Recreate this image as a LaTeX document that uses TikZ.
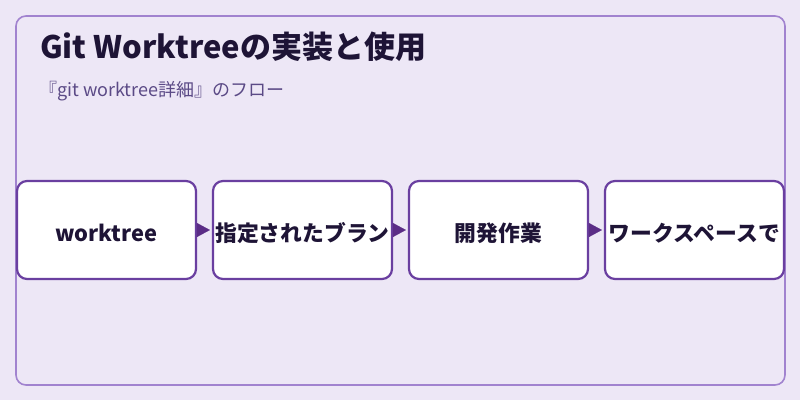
\documentclass[tikz,border=0pt]{standalone}
\usepackage{fontspec}
\setmainfont{Noto Sans CJK JP}
\usetikzlibrary{arrows.meta}
\definecolor{bgc}{HTML}{EDE7F6}
\definecolor{framec}{HTML}{A183CF}
\definecolor{boxc}{HTML}{6A3FA0}
\definecolor{arrc}{HTML}{5B2D86}
\definecolor{txtc}{HTML}{1E1436}
\definecolor{subc}{HTML}{5B4A86}
\tikzset{
  stepbox/.style={draw=boxc, line width=2.2pt, fill=white, rounded corners=10pt,
    minimum width=179pt, minimum height=98pt, inner sep=0pt, text=txtc,
    text height=22pt, text depth=0pt,
    font=\fontsize{21.8}{26}\selectfont\bfseries},
  flow/.style={arrc, line width=0.1pt, -{Triangle[length=13pt,width=14pt]}, shorten >=2pt},
}
\begin{document}
\begin{tikzpicture}[x=1pt,y=-1pt]
\fill[bgc] (0,0) rectangle (800,400);
\useasboundingbox (0,0) rectangle (800,400);
\draw[framec, line width=1.6pt, rounded corners=10pt] (16,16) rectangle (785,385);
\node[anchor=base west, inner sep=0pt, text=txtc, font=\fontsize{31}{35}\selectfont\bfseries] (title) at (40,58) {Git Worktreeの実装と使用};
\node[anchor=base west, inner sep=0pt, text=subc, font=\fontsize{18}{21}\selectfont] (sub) at (39,96) {『git worktree詳細』のフロー};
\node[stepbox] (b1) at (106.5,230) {worktree};
\node[stepbox] (b2) at (302.5,230) {指定されたブラン};
\node[stepbox] (b3) at (498.5,230) {開発作業};
\node[stepbox] (b4) at (694.5,230) {ワークスペースで};
\draw[flow] (b1.east) -- (b2.west);
\draw[flow] (b2.east) -- (b3.west);
\draw[flow] (b3.east) -- (b4.west);
\end{tikzpicture}
\end{document}
